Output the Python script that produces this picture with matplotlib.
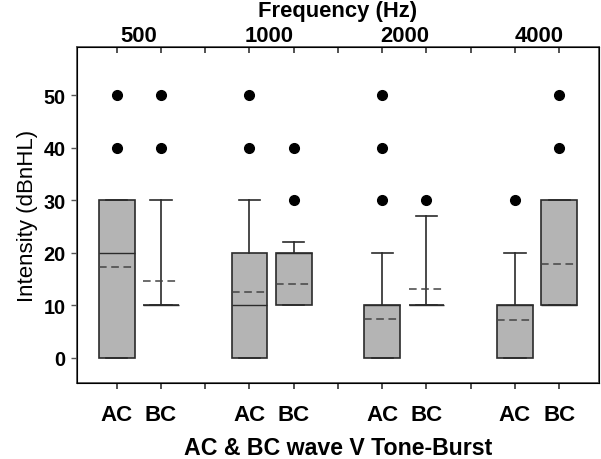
import matplotlib
matplotlib.use("Agg")
import matplotlib.pyplot as plt

plt.rcParams['font.family'] = ['Liberation Sans', 'DejaVu Sans']

# data: one entry per box, in drawing order (AC, BC for each frequency)
pos = [1, 2, 4, 5, 7, 8, 10, 11]
q1 = [0, 10, 0, 10, 0, 10, 0, 10]
q3 = [30, 10, 20, 20, 10, 10, 10, 30]
med = [20, 10, 10, 20, 10, 10, 10, 10]
mean = [17.3, 14.5, 12.4, 14.0, 7.4, 13.0, 7.1, 17.8]
whislo = [0, 10, 0, 10, 0, 10, 0, 10]
whishi = [30, 30, 30, 22, 20, 27, 20, 30]
fliers = [[40, 50], [40, 50], [40, 50], [30, 40], [30, 40, 50], [30], [30], [40, 50]]

freqs = ['500', '1000', '2000', '4000']
freq_pos = [1.5, 4.45, 7.5, 10.55]
tick_pos = list(range(1, 12))
tick_lab = ['AC', 'BC', '', 'AC', 'BC', '', 'AC', 'BC', '', 'AC', 'BC']

stats = []
for i in range(len(pos)):
    stats.append(dict(q1=q1[i], q3=q3[i], med=med[i], mean=mean[i],
                      whislo=whislo[i], whishi=whishi[i], fliers=fliers[i]))

fig = plt.figure(figsize=(6.01, 4.6), dpi=100)
ax = fig.add_axes([0.128, 0.1646, 0.8687, 0.7304])

edge = '#2b2b2b'
ax.bxp(stats, positions=pos, widths=0.81, patch_artist=True,
       showmeans=True, meanline=True, capwidths=0.48,
       boxprops=dict(facecolor='#b4b4b4', edgecolor=edge, linewidth=1.2),
       medianprops=dict(color=edge, linewidth=1.0),
       meanprops=dict(color='#444444', linewidth=1.1, linestyle=(0, (5, 3))),
       whiskerprops=dict(color=edge, linewidth=1.2),
       capprops=dict(color=edge, linewidth=1.2),
       flierprops=dict(marker='o', markerfacecolor='black', markeredgecolor='black',
                       markersize=7, linestyle='none'))

ax.set_xlim(0.1, 11.9)
ax.set_ylim(-4.9, 59.1)
ax.set_yticks([0, 10, 20, 30, 40, 50])
ax.set_xticks(tick_pos, tick_lab)
ax.tick_params(axis='y', direction='out', length=4, width=1, color='#555555',
               labelsize=14.3, pad=4)
ax.tick_params(axis='x', direction='out', length=4, width=1.2, color='#333333',
               labelsize=16, pad=11)
for lab in ax.get_xticklabels() + ax.get_yticklabels():
    lab.set_fontweight('bold')
for s in ax.spines.values():
    s.set_color('#555555')
    s.set_linewidth(1.3)

ax.set_ylabel('Intensity (dBnHL)', fontsize=16, labelpad=4)

top = ax.twiny()
top.set_xlim(ax.get_xlim())
top.set_xticks(tick_pos, [''] * len(tick_pos))
top.tick_params(axis='x', direction='in', length=4, width=1.2, color='#333333')
top.set_xticks(freq_pos, freqs, minor=True)
top.tick_params(axis='x', which='minor', length=0, labelsize=15.8, pad=1)
for lab in top.get_xticklabels(minor=True):
    lab.set_fontweight('bold')

fig.text(0.5625, 1 - 1.5 / 460, 'Frequency (Hz)', fontsize=15.8, fontweight='bold',
         ha='center', va='top')
fig.text(0.5625, 1 - 449 / 460, 'AC & BC wave V Tone-Burst', fontsize=16.7,
         fontweight='bold', ha='center', va='center')

fig.savefig('out.png', dpi=100)
